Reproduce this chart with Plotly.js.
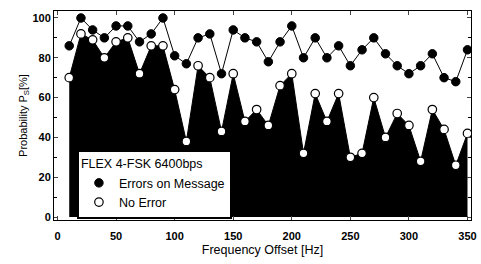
<!DOCTYPE html>
<html>
<head>
<meta charset="utf-8">
<script src="https://cdn.plot.ly/plotly-3.0.1.min.js"></script>
<style>html,body{margin:0;padding:0;background:#fff;}#chart{width:481px;height:264px;}</style>
</head>
<body>
<div id="chart"></div>
<script>
const freqOffset = [10,20,30,40,50,60,70,80,90,100,110,120,130,140,150,160,170,180,190,200,210,220,230,240,250,260,270,280,290,300,310,320,330,340,350];
const errorsOnMessage = [86,100,94,90,96,96,88,92,100,81,77,90,92,72,94,90,88,78,88,96,80,90,80,86,76,84,90,82,76,72,76,82,70,68,84];
const noError = [70,92,89,80,88,90,72,86,86,64,38,76,70,43,72,48,54,46,66,72,32,62,48,62,30,32,60,40,52,46,28,54,44,26,42];
const legendTitle = "FLEX 4-FSK 6400bps";
const seriesNames = ["Errors on Message", "No Error"];
const xTickVals = [0,50,100,150,200,250,300,350];
const yTickVals = [0,20,40,60,80,100];

const font = {family: "Liberation Sans, Arial, sans-serif", color: "#000"};

const traces = [
  {x: freqOffset, y: noError, mode: "lines", fill: "tozeroy", fillcolor: "#000",
   line: {color: "#000", width: 1}, showlegend: false, hoverinfo: "skip"},
  {x: freqOffset, y: errorsOnMessage, mode: "lines", line: {color: "#000", width: 1},
   showlegend: false, hoverinfo: "skip"},
  {x: freqOffset, y: errorsOnMessage, mode: "markers", name: seriesNames[0],
   marker: {symbol: "circle", size: 8.5, color: "#000", line: {color: "#000", width: 1}}},
  {x: freqOffset, y: noError, mode: "markers", name: seriesNames[1],
   marker: {symbol: "circle", size: 8.5, color: "#fff", line: {color: "#000", width: 1.2}}}
];

const layout = {
  width: 481, height: 264,
  margin: {l: 54, r: 10, t: 11, b: 44, pad: 0},
  paper_bgcolor: "#fff", plot_bgcolor: "#fff",
  font: Object.assign({size: 11}, font),
  showlegend: true,
  legend: {
    x: 0.055, y: 0.335, xanchor: "left", yanchor: "top",
    bgcolor: "#fff", bordercolor: "#000", borderwidth: 2,
    title: {text: legendTitle, font: Object.assign({size: 12.5}, font)},
    font: Object.assign({size: 12.5}, font),
    tracegroupgap: 0, itemwidth: 30
  },
  xaxis: {
    range: [-3, 353], tickvals: xTickVals, ticks: "inside", ticklen: 4,
    showline: true, linecolor: "#000", linewidth: 1, mirror: "ticks",
    showgrid: false, zeroline: false, ticklabelstandoff: 6,
    tickfont: Object.assign({size: 11, weight: "bold"}, font),
    title: {text: "Frequency Offset [Hz]", font: Object.assign({size: 12.5}, font), standoff: 4}
  },
  yaxis: {
    range: [-1.5, 103.5], tickvals: yTickVals, ticks: "inside", ticklen: 4,
    minor: {dtick: 10, ticks: "inside", ticklen: 3, tickcolor: "#000"},
    showline: true, linecolor: "#000", linewidth: 1, mirror: "ticks",
    showgrid: false, zeroline: false,
    tickfont: Object.assign({size: 11, weight: "bold"}, font),
    title: {text: "Probability P<sub>S</sub>[%]", font: Object.assign({size: 11}, font), standoff: 2}
  }
};

Plotly.newPlot("chart", traces, layout, {displayModeBar: false, staticPlot: true});
</script>
</body>
</html>
